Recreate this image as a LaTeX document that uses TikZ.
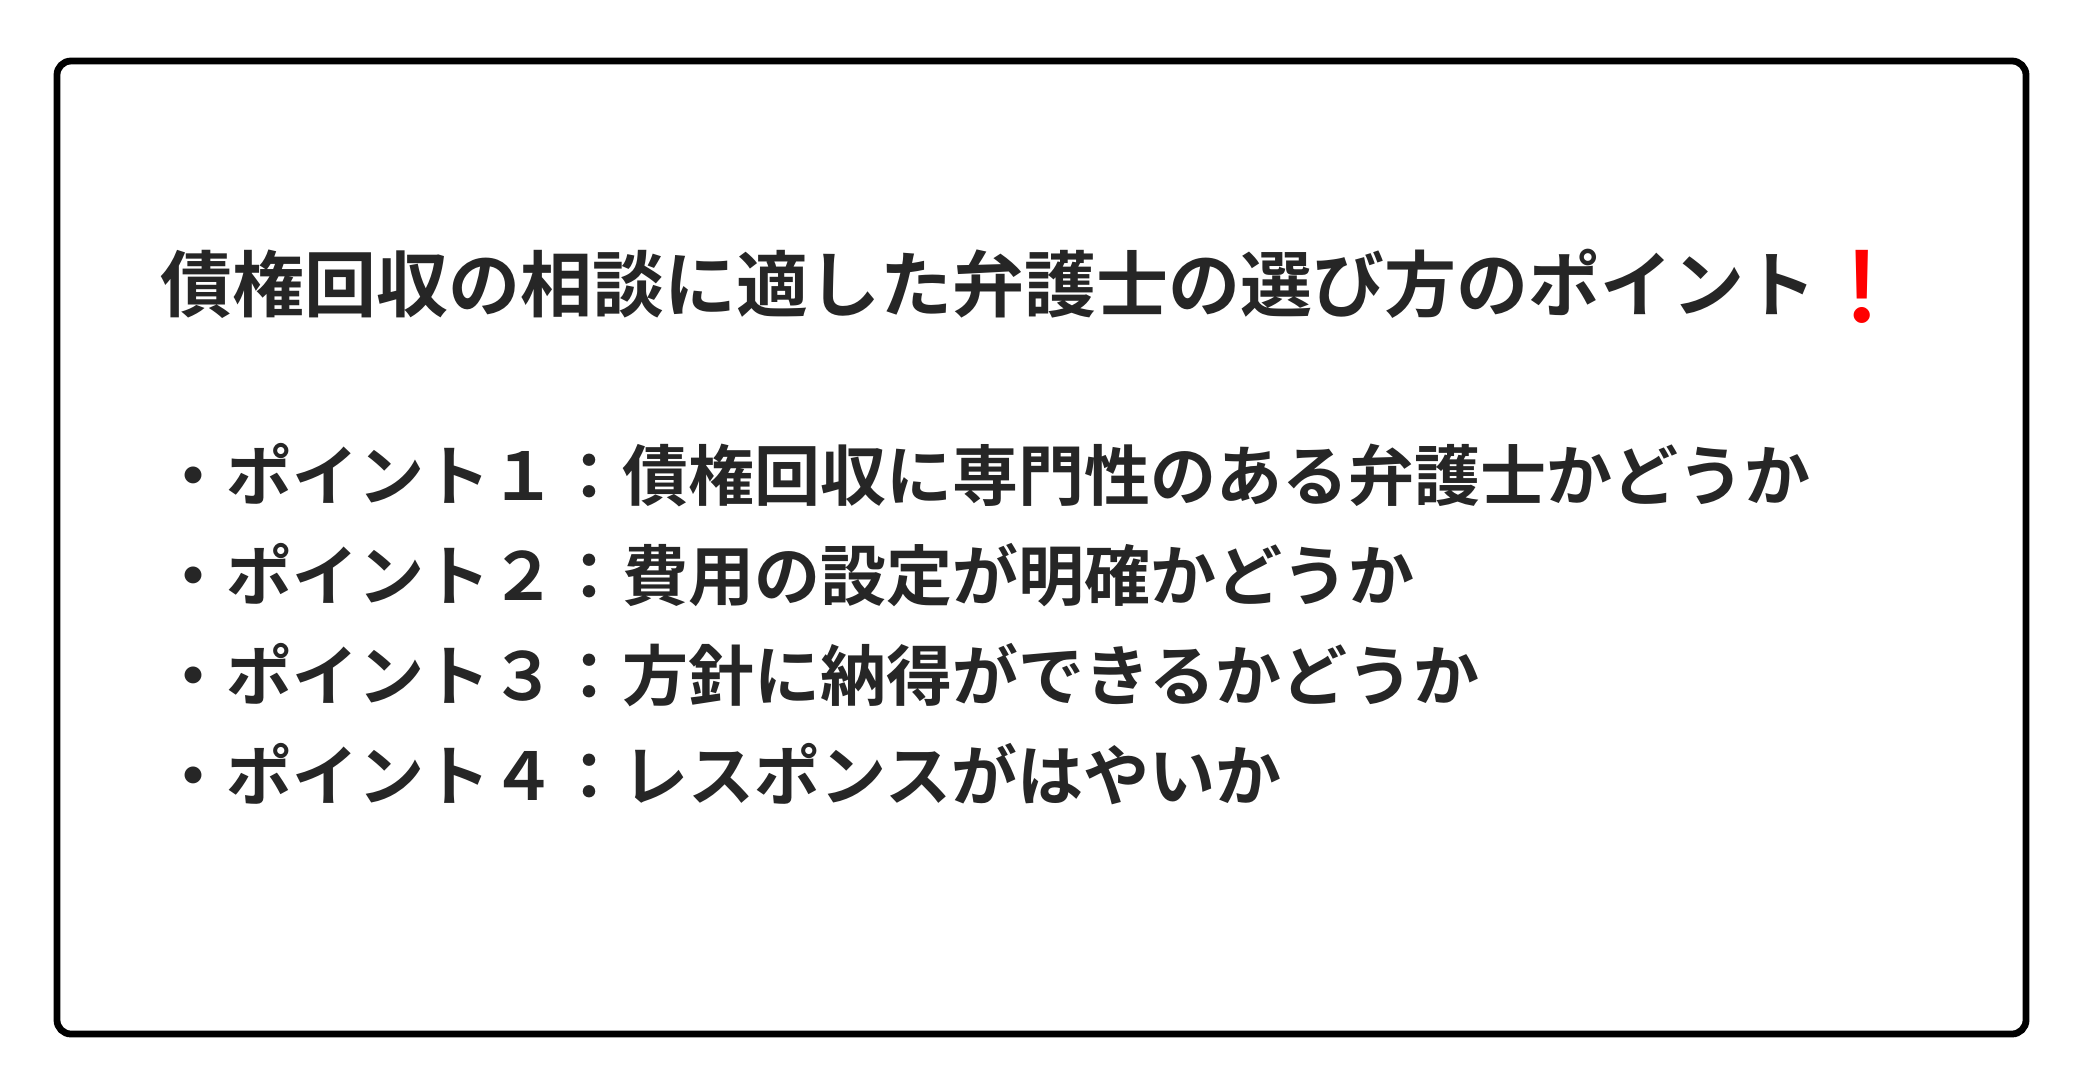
\documentclass[tikz,border=0pt]{standalone}
\usepackage{fontspec}
\newfontfamily\jp{Noto Sans CJK JP}[BoldFont={* Bold}]
\newfontfamily\emo{Noto Emoji}
\begin{document}
\begin{tikzpicture}[x=0.5pt,y=-0.5pt,
  title/.style={anchor=base west,inner sep=0pt,font=\jp\bfseries\fontsize{36}{40}\selectfont,text=black!85},
  item/.style={anchor=base west,inner sep=0pt,font=\jp\bfseries\fontsize{33}{40}\selectfont,text=black!85}]
\useasboundingbox (0,0) rectangle (2080,1089);
\draw[line width=3.4pt,rounded corners=7pt] (57,61) rectangle (2026,1034);
\node[title] (t) at (160,311) {債権回収の相談に適した弁護士の選び方のポイント\textcolor{red}{\emo ❗}};
\node[item] (p1) at (160,500) {・ポイント１：債権回収に専門性のある弁護士かどうか};
\node[item] (p2) at (160,600) {・ポイント２：費用の設定が明確かどうか};
\node[item] (p3) at (160,700) {・ポイント３：方針に納得ができるかどうか};
\node[item] (p4) at (160,800) {・ポイント４：レスポンスがはやいか};
\end{tikzpicture}
\end{document}
